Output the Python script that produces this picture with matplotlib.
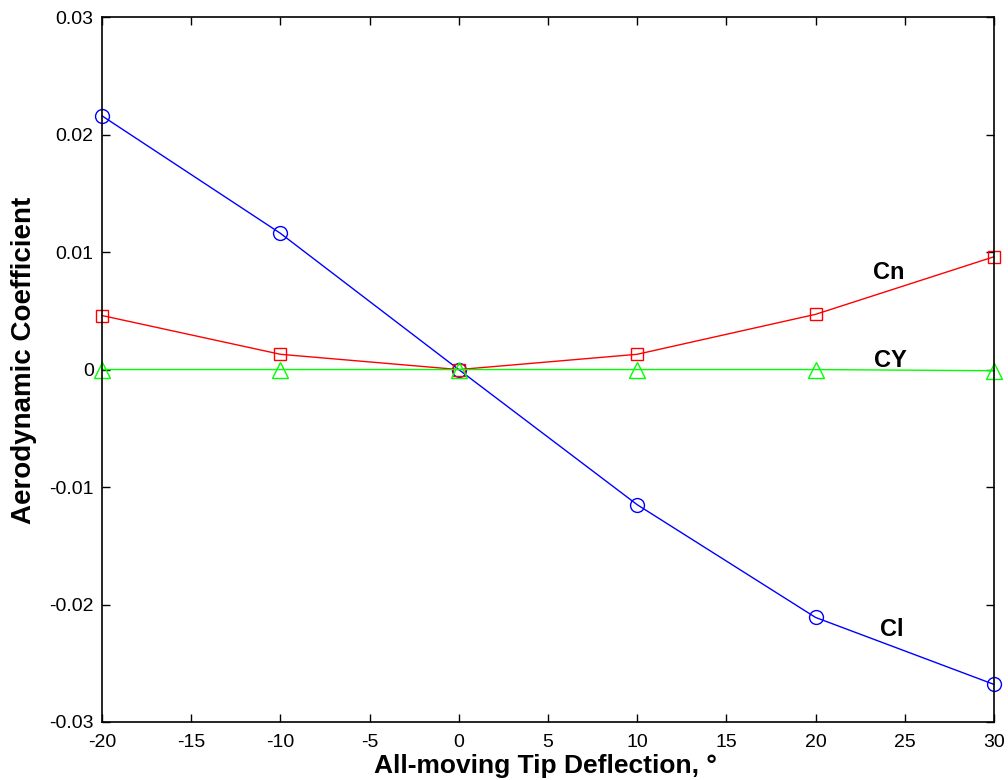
import matplotlib
matplotlib.use("Agg")
import matplotlib.pyplot as plt

deflection = [-20, -10, 0, 10, 20, 30]
cl = [0.0216, 0.0116, 0.0, -0.0115, -0.0211, -0.0268]
cn = [0.0046, 0.0013, 0.0, 0.0013, 0.0047, 0.0096]
cy = [0.0, 0.0, 0.0, 0.0, 0.0, -0.0001]
xticks = [-20, -15, -10, -5, 0, 5, 10, 15, 20, 25, 30]
yticks = [-0.03, -0.02, -0.01, 0, 0.01, 0.02, 0.03]
ytick_labels = ["-0.03", "-0.02", "-0.01", "0", "0.01", "0.02", "0.03"]

plt.rcParams['font.family'] = ['Liberation Sans', 'DejaVu Sans']
plt.rcParams['axes.unicode_minus'] = False

fig = plt.figure(figsize=(10.08, 7.8), dpi=100)
ax = fig.add_axes([0.1012, 0.0744, 0.8848, 0.9036])

ax.plot(deflection, cl, color='#0000ff', lw=1, marker='o', ms=10, mfc='none', mec='#0000ff', mew=1, clip_on=False)
ax.plot(deflection, cn, color='#ff0000', lw=1, marker='s', ms=9, mfc='none', mec='#ff0000', mew=1, clip_on=False)
ax.plot(deflection, cy, color='#00ff00', lw=1, marker='^', ms=11, mfc='none', mec='#00ff00', mew=1, clip_on=False)

ax.set_xlim(-20, 30)
ax.set_ylim(-0.03, 0.03)
ax.set_xticks(xticks)
ax.set_yticks(yticks)
ax.set_yticklabels(ytick_labels)
ax.tick_params(direction='in', top=True, right=True, labelsize=14, length=6, width=1, pad=6)
ax.tick_params(axis='x', pad=9)
for s in ax.spines.values():
    s.set_linewidth(1.2)

ax.text(24.1, 0.0083, 'Cn', fontsize=17, fontweight='bold', ha='center', va='center')
ax.text(24.2, 0.0008, 'CY', fontsize=17, fontweight='bold', ha='center', va='center')
ax.text(24.3, -0.0221, 'Cl', fontsize=17, fontweight='bold', ha='center', va='center')

ax.set_xlabel('All-moving Tip Deflection, °', fontsize=19, fontweight='bold')
ax.set_ylabel('Aerodynamic Coefficient', fontsize=20, fontweight='bold')
ax.xaxis.label.set_va('center')
ax.yaxis.label.set_va('center')
ax.xaxis.set_label_coords((545 - 102) / 892, -(766 - 722) / 705)
ax.yaxis.set_label_coords(-(102 - 24) / 892, (722 - 360) / 705)

fig.savefig('out.png', dpi=100)
